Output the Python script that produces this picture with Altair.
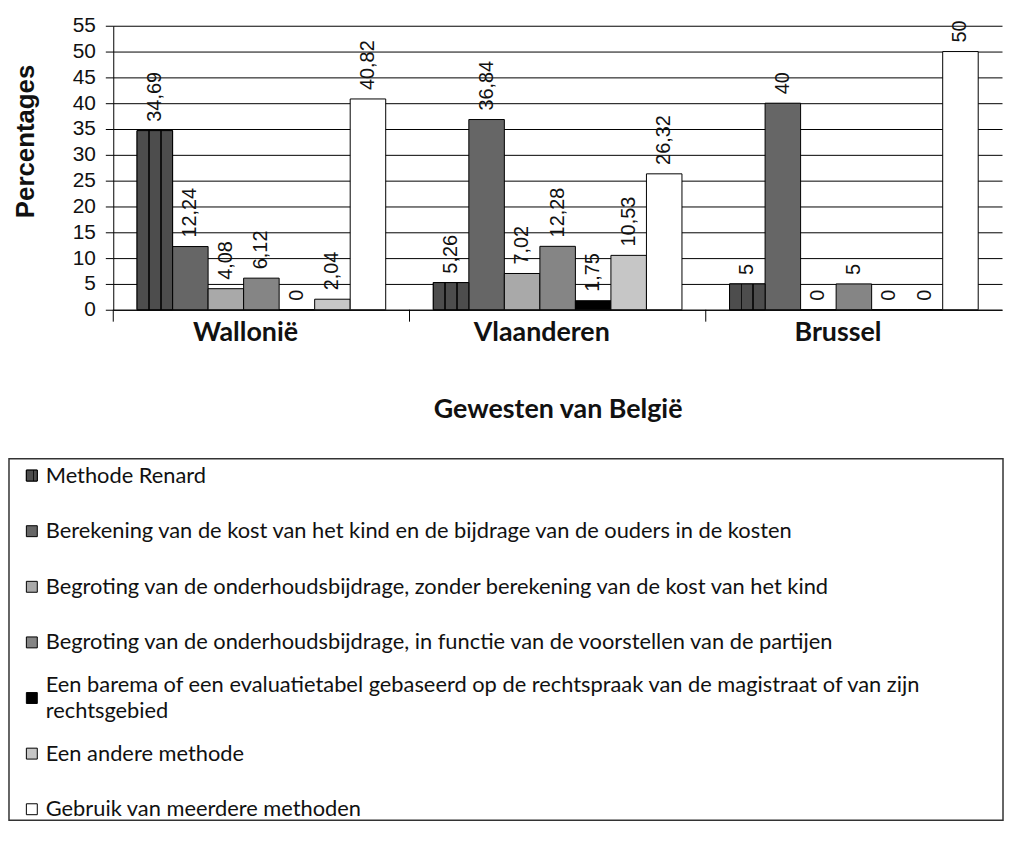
import altair as alt
import pandas as pd

regions = ["Wallonië", "Vlaanderen", "Brussel"]
keys = [0, 1, 2, 3, 4, 5, 6]
methods = [
    "Methode Renard",
    "Berekening van de kost van het kind en de bijdrage van de ouders in de kosten",
    "Begroting van de onderhoudsbijdrage, zonder berekening van de kost van het kind",
    "Begroting van de onderhoudsbijdrage, in functie van de voorstellen van de partijen",
    "Een barema of een evaluatietabel gebaseerd op de rechtspraak van de magistraat of van zijn|rechtsgebied",
    "Een andere methode",
    "Gebruik van meerdere methoden",
]
wallonie = [34.69, 12.24, 4.08, 6.12, 0, 2.04, 40.82]
vlaanderen = [5.26, 36.84, 7.02, 12.28, 1.75, 10.53, 26.32]
brussel = [5, 40, 0, 5, 0, 0, 50]
fills = ["#4a4a4a", "#666666", "#a9a9a9", "#858585", "#000000", "#c6c6c6", "#ffffff"]
y_ticks = list(range(0, 56, 5))

rows = []
for reg, vals in zip(regions, [wallonie, vlaanderen, brussel]):
    for k, v in zip(keys, vals):
        rows.append({"region": reg, "k": k, "value": v})
df = pd.DataFrame(rows)
reg_df = pd.DataFrame({"region": regions})
leg_df = pd.DataFrame({"k": keys, "label": methods})
box_df = pd.DataFrame({"box": [1]})

renard_grad = alt.LinearGradient(
    gradient="linear", x1=0, x2=1, y1=0, y2=0,
    stops=[
        alt.GradientStop(color="#4d4d4d", offset=0),
        alt.GradientStop(color="#4d4d4d", offset=0.31),
        alt.GradientStop(color="#111111", offset=0.31),
        alt.GradientStop(color="#111111", offset=0.36),
        alt.GradientStop(color="#4d4d4d", offset=0.36),
        alt.GradientStop(color="#4d4d4d", offset=0.64),
        alt.GradientStop(color="#111111", offset=0.64),
        alt.GradientStop(color="#111111", offset=0.69),
        alt.GradientStop(color="#4d4d4d", offset=0.69),
        alt.GradientStop(color="#4d4d4d", offset=1),
    ],
)

H = 286
W = 895

x_enc = alt.X(
    "region:N", sort=regions,
    scale=alt.Scale(domain=regions, paddingInner=0, paddingOuter=0),
    title="Gewesten van België",
    axis=alt.Axis(
        labelAngle=0, labelFont="Lato", labelFontWeight="bold", labelFontSize=27,
        labelColor="#111", labelPadding=10, labelOffset=-16, ticks=False, tickSize=0,
        domainColor="black", domainWidth=1, grid=False,
        titleFont="Lato", titleFontSize=27, titleFontWeight="bold", titleColor="#111",
        titlePadding=52,
    ),
)
xo_enc = alt.XOffset("k:O", scale=alt.Scale(domain=keys, paddingInner=0, paddingOuter=0.67))
y_enc = alt.Y(
    "value:Q", scale=alt.Scale(domain=[0, 55], nice=False, zero=True),
    title="Percentages",
    axis=alt.Axis(
        values=y_ticks, grid=True, gridColor="black", gridWidth=1, domainColor="black",
        tickColor="black", tickSize=8, labelFont="Liberation Sans", labelFontSize=21,
        labelColor="#111", labelPadding=10, titleFont="Liberation Sans", titleFontSize=26,
        titleFontWeight="bold", titleColor="#111", titlePadding=34, titleY=116,
    ),
)

base = alt.Chart(df).encode(x=x_enc, xOffset=xo_enc, y=y_enc)
bars = base.mark_bar(stroke="black", strokeWidth=1).encode(
    fill=alt.Fill("k:O", scale=alt.Scale(domain=keys, range=fills), legend=None)
)
renard = base.transform_filter("datum.k == 0").mark_bar(
    fill=renard_grad, stroke="black", strokeWidth=1
)
labels = base.transform_calculate(
    lbl="replace(toString(datum.value), '.', ',')"
).mark_text(
    angle=270, align="left", baseline="middle", dx=9, fontSize=20,
    font="Liberation Sans", color="#111"
).encode(text="lbl:N")
ticks = alt.Chart(reg_df).mark_rule(color="black", strokeWidth=1).encode(
    x=alt.X("region:N", sort=regions, bandPosition=0),
    y=alt.value(H), y2=alt.value(H + 12),
)
top = alt.layer(bars, renard, labels, ticks)

# legend block under the plot (own y scale)
y_leg = alt.Y("k:O", axis=None,
              scale=alt.Scale(type="point", domain=keys, range=[453, 789], padding=0))
box = alt.Chart(box_df).mark_rect(
    fill="transparent", stroke="#333", strokeWidth=1.5
).encode(x=alt.value(-105), x2=alt.value(896), y=alt.value(436), y2=alt.value(800))
sw = alt.Chart(leg_df).mark_square(size=121, stroke="black", strokeWidth=1, opacity=1).encode(
    x=alt.value(-82), y=y_leg,
    fill=alt.Fill("k:O", scale=alt.Scale(domain=keys, range=fills), legend=None),
)
sw_r = alt.Chart(leg_df).transform_filter("datum.k == 0").mark_square(
    size=121, stroke="black", strokeWidth=1, opacity=1, fill=renard_grad
).encode(x=alt.value(-82), y=y_leg)

txt_src = alt.Chart(leg_df).transform_calculate(
    l1="split(datum.label, '|')[0]",
    l2="split(datum.label, '|')[1]",
)
txt_style = dict(align="left", baseline="middle", font="Lato", fontSize=22, color="#111")
txt_single = txt_src.transform_filter("datum.k != 4").mark_text(**txt_style).encode(
    x=alt.value(-68), y=y_leg, text="l1:N")
txt_first = txt_src.transform_filter("datum.k == 4").mark_text(dy=-13, **txt_style).encode(
    x=alt.value(-68), y=y_leg, text="l1:N")
txt_second = txt_src.transform_filter("datum.k == 4").mark_text(dy=13, **txt_style).encode(
    x=alt.value(-68), y=y_leg, text="l2:N")
leg = alt.layer(box, sw, sw_r, txt_single, txt_first, txt_second)

chart = alt.layer(top, leg).resolve_scale(y="independent").properties(
    width=W, height=H,
    padding={"left": 0, "top": 4, "right": 0, "bottom": 0},
).configure(background="white").configure_view(stroke="transparent")

chart.save("out.html", embed_options={"renderer": "svg", "actions": False})
